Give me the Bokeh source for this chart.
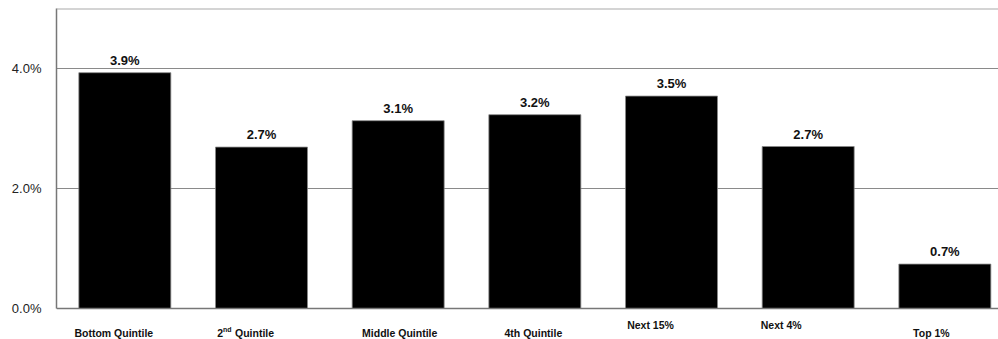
from bokeh.plotting import figure
from bokeh.models import ColumnDataSource, Range1d, FixedTicker, Span
from bokeh.embed import file_html
from bokeh.resources import INLINE
from bokeh.core.properties import value

# Income groups and their average annual growth (percent)
groups = ["Bottom Quintile", "2nd Quintile", "Middle Quintile", "4th Quintile",
          "Next 15%", "Next 4%", "Top 1%"]
growth = [3.93, 2.69, 3.13, 3.23, 3.54, 2.70, 0.74]
y_ticks = [0, 2, 4]

# Category-label placement (pixel offsets from each bar centre, and drop below the baseline)
label_dx = [-11, -16, 1.5, -1.5, -21, -27, -13.5]
label_dy = [24, 24, 24, 24, 16, 16, 24]

FONT = "Liberation Sans"
xs = list(range(len(groups)))
src = ColumnDataSource(dict(
    x=xs,
    top=growth,
    lbl=[f"{v:.1f}%" for v in growth],
))

# frame runs from the top line down to the bottom of the canvas (60 px per percent);
# the band below y=0 holds the category labels
p = figure(width=998, height=339, output_backend="svg", toolbar_location=None,
           x_range=Range1d(-0.5, -0.5 + 942 / 136.67), y_range=Range1d(-31 / 60, 5),
           min_border_left=56, min_border_right=0, min_border_top=8, min_border_bottom=0)
p.outline_line_color = None
p.background_fill_color = "white"
p.border_fill_color = "white"

p.vbar(x="x", top="top", bottom=0, width=0.673, source=src, fill_color="black",
       line_color="#888888", line_width=0.8)

p.text(x="x", y="top", text="lbl", source=src, text_align="center",
       text_baseline="bottom", y_offset=-5, text_font=value(FONT),
       text_font_size="13px", text_font_style="bold", text_color="#111111")

# Axes
p.xaxis.visible = False
ya = p.yaxis[0]
ya.ticker = FixedTicker(ticks=y_ticks)
ya.bounds = (0, 5)
ya.major_label_overrides = {t: f"{t:.1f}%" for t in y_ticks}
ya.major_tick_in = 0
ya.major_tick_out = 0
ya.minor_tick_in = 0
ya.minor_tick_out = 0
ya.major_label_standoff = 15
ya.major_label_text_font = FONT
ya.major_label_text_font_size = "13px"
ya.major_label_text_color = "#222222"
ya.axis_line_color = "#777777"
ya.axis_line_width = 1.5

p.xgrid.grid_line_color = None
p.ygrid.grid_line_color = "#8a8a8a"
p.ygrid.grid_line_width = 1

p.add_layout(Span(location=5, dimension="width", line_color="#aaaaaa", line_width=2))
p.add_layout(Span(location=0, dimension="width", line_color="#777777", line_width=1.5))

# Category labels under the bars
plain = [i for i, g in enumerate(groups) if g != "2nd Quintile"]
cat_src = ColumnDataSource(dict(
    x=[xs[i] for i in plain],
    y=[0] * len(plain),
    name=[groups[i] for i in plain],
    dx=[label_dx[i] for i in plain],
    dy=[label_dy[i] for i in plain],
))
p.text(x="x", y="y", text="name", x_offset="dx", y_offset="dy", source=cat_src,
       text_align="center", text_baseline="middle", text_font=value(FONT),
       text_font_size="10.5px", text_font_style="bold", text_color="#111111")

# "2nd Quintile" with a raised ordinal suffix
k = groups.index("2nd Quintile")
sup_src = ColumnDataSource(dict(
    x=[xs[k]] * 3,
    y=[0] * 3,
    t=["2", "nd", "Quintile"],
    dx=[-44.3, -38.5, -26.5],
    dy=[label_dy[k], label_dy[k] - 3, label_dy[k]],
    fs=["10.5px", "7px", "10.5px"],
))
p.text(x="x", y="y", text="t", x_offset="dx", y_offset="dy", source=sup_src,
       text_align="left", text_baseline="middle", text_font=value(FONT),
       text_font_size="fs", text_font_style="bold", text_color="#111111")

open("out.html", "w").write(file_html(p, INLINE))
